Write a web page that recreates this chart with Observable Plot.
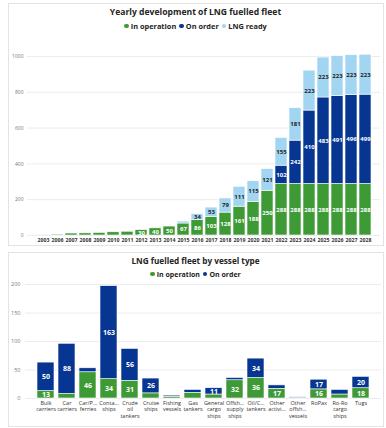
<!DOCTYPE html>
<html>
<head>
<meta charset="utf-8">
<script src="https://cdn.jsdelivr.net/npm/d3@7"></script>
<script src="https://cdn.jsdelivr.net/npm/@observablehq/plot@0.6"></script>
<style>
  html, body { margin: 0; padding: 0; background: #fff; width: 386px; height: 428px; overflow: hidden; font-family: "Open Sans", sans-serif; }
  .abs { position: absolute; }
  .panel { position: absolute; border: 1px solid #e3e3e3; box-sizing: border-box; z-index: 3; pointer-events: none; }
  .title { position: absolute; left: 0; width: 391px; text-align: center; font-weight: 700; color: #252423; white-space: nowrap; }
  .legend { position: absolute; left: 0; width: 391px; text-align: center; font-weight: 700; color: #252423; white-space: nowrap; }
  .legend span.dot { display: inline-block; width: 4.5px; height: 4.5px; border-radius: 50%; margin-right: 2px; vertical-align: 1px; }
  .legend span.item { margin: 0 1.5px; }
  svg { overflow: visible; }
</style>
</head>
<body>
<div class="panel" style="left:8px;top:3px;width:376px;height:243px;"></div>
<div class="panel" style="left:8px;top:252px;width:376px;height:175px;"></div>

<div class="title" style="top:6px;font-size:8.6px;">Yearly development of LNG fuelled fleet</div>
<div class="legend" id="legend1" style="top:21px;font-size:7.4px;"></div>
<div class="abs" id="chart1" style="left:0;top:30px;"></div>

<div class="title" style="top:255px;font-size:8.2px;">LNG fuelled fleet by vessel type</div>
<div class="legend" id="legend2" style="top:270px;font-size:7px;"></div>
<div class="abs" id="chart2" style="left:0;top:280px;"></div>

<script>
// ---------- Data: yearly development ----------
const years = ["2003","2006","2007","2008","2009","2010","2011","2012","2013","2014","2015","2016","2017","2018","2019","2020","2021","2022","2023","2024","2025","2026","2027","2028"];
const inOperation = [4,5,11,12,14,18,21,30,40,50,67,86,103,128,161,188,250,288,288,288,288,288,288,288];
const onOrder     = [0,0,0,0,0,0,0,0,0,0,0,0,0,0,0,0,0,102,242,410,483,491,496,499];
const lngReady    = [0,0,0,0,0,0,0,0,0,0,11,34,53,79,111,115,121,155,181,223,223,223,223,223];
const yearTicks = [0,200,400,600,800,1000];

// ---------- Data: by vessel type ----------
const vesselTypes = ["Bulk carriers","Car carriers","Car/P… ferries","Conta… ships","Crude oil tankers","Cruise ships","Fishing vessels","Gas tankers","General cargo ships","Offsh… supply ships","Oil/C… tankers","Other activi…","Other offsh… vessels","RoPax","Ro-Ro cargo ships","Tugs"];
const vesselTickLabels = ["Bulk\ncarriers","Car\ncarriers","Car/P…\nferries","Conta…\nships","Crude\noil\ntankers","Cruise\nships","Fishing\nvessels","Gas\ntankers","General\ncargo\nships","Offsh…\nsupply\nships","Oil/C…\ntankers","Other\nactivi…","Other\noffsh…\nvessels","RoPax","Ro-Ro\ncargo\nships","Tugs"];
const vesselOperation = [13,8,46,34,31,9,3,10,7,32,36,17,1,16,7,18];
const vesselOrder     = [50,88,7,163,56,26,2,5,11,4,34,6,1,17,8,20];
const vesselTicks = [0,50,100,150,200];

const statuses = ["In operation","On order","LNG ready"];
const colors = ["#3d9a35","#063592","#a2d5f1"];

function legend(el, names) {
  el.innerHTML = names.map((n,i) =>
    `<span class="item"><span class="dot" style="background:${colors[i]}"></span>${n}</span>`).join("");
}
legend(document.getElementById("legend1"), statuses);
legend(document.getElementById("legend2"), statuses.slice(0,2));

// ---------- Chart 1 ----------
const rows1 = [];
years.forEach((y,i) => {
  rows1.push({x:y, status:statuses[0], value:inOperation[i]});
  rows1.push({x:y, status:statuses[1], value:onOrder[i]});
  rows1.push({x:y, status:statuses[2], value:lngReady[i]});
});

const chart1 = Plot.plot({
  width: 386, height: 216,
  marginLeft: 27, marginRight: 6, marginTop: 26, marginBottom: 11,
  style: {fontFamily: "Open Sans, sans-serif", background: "transparent", overflow: "visible"},
  x: {domain: years, paddingInner: 0.17, paddingOuter: 0.315, label: null},
  y: {domain: [0,1000], label: null},
  color: {domain: statuses, range: colors},
  marks: [
    Plot.gridY(yearTicks, {stroke: "#ececec", strokeOpacity: 1}),
    Plot.barY(rows1, {x: "x", y: "value", fill: "status", z: "status", stroke: "white", strokeWidth: 0.6}),
    Plot.text(rows1, Plot.stackY({x: "x", y: "value", z: "status",
      text: d => d.value >= 25 ? String(d.value) : "",
      fill: d => d.status === "LNG ready" ? "#252423" : "white",
      fontSize: 6, fontWeight: "bold"})),
    Plot.axisY({ticks: yearTicks, tickFormat: d => String(d), tickSize: 0, tickPadding: 4, fontSize: 5, fill: "#777", label: null}),
    Plot.axisX({tickSize: 0, tickPadding: 2.5, fontSize: 5.2, fontWeight: "bold", fill: "#333", label: null})
  ]
});
document.getElementById("chart1").appendChild(chart1);

// ---------- Chart 2 ----------
const rows2 = [];
vesselTypes.forEach((v,i) => {
  rows2.push({x:v, status:statuses[0], value:vesselOperation[i]});
  rows2.push({x:v, status:statuses[1], value:vesselOrder[i]});
});
const tickMap = new Map(vesselTypes.map((v,i) => [v, vesselTickLabels[i]]));

const chart2 = Plot.plot({
  width: 386, height: 148,
  marginLeft: 25, marginRight: 5, marginTop: 4, marginBottom: 30,
  style: {fontFamily: "Open Sans, sans-serif", background: "transparent", overflow: "visible"},
  x: {domain: vesselTypes, paddingInner: 0.21, paddingOuter: 0.36, label: null},
  y: {domain: [0,200], label: null},
  color: {domain: statuses.slice(0,2), range: colors.slice(0,2)},
  marks: [
    Plot.gridY(vesselTicks, {stroke: "#ececec", strokeOpacity: 1}),
    Plot.barY(rows2, {x: "x", y: "value", fill: "status", z: "status", stroke: "white", strokeWidth: 0.6}),
    Plot.text(rows2, Plot.stackY({x: "x", y: "value", z: "status",
      text: d => d.value >= 11 ? String(d.value) : "",
      fill: "white", fontSize: 7, fontWeight: "bold"})),
    Plot.axisY({ticks: vesselTicks, tickSize: 0, tickPadding: 5, fontSize: 5.5, fill: "#777", label: null}),
    Plot.axisX({tickSize: 0, tickPadding: 1.5, fontSize: 5.5, fill: "#333", lineHeight: 1.2, label: null,
      tickFormat: d => tickMap.get(d)})
  ]
});
document.getElementById("chart2").appendChild(chart2);
</script>
</body>
</html>
